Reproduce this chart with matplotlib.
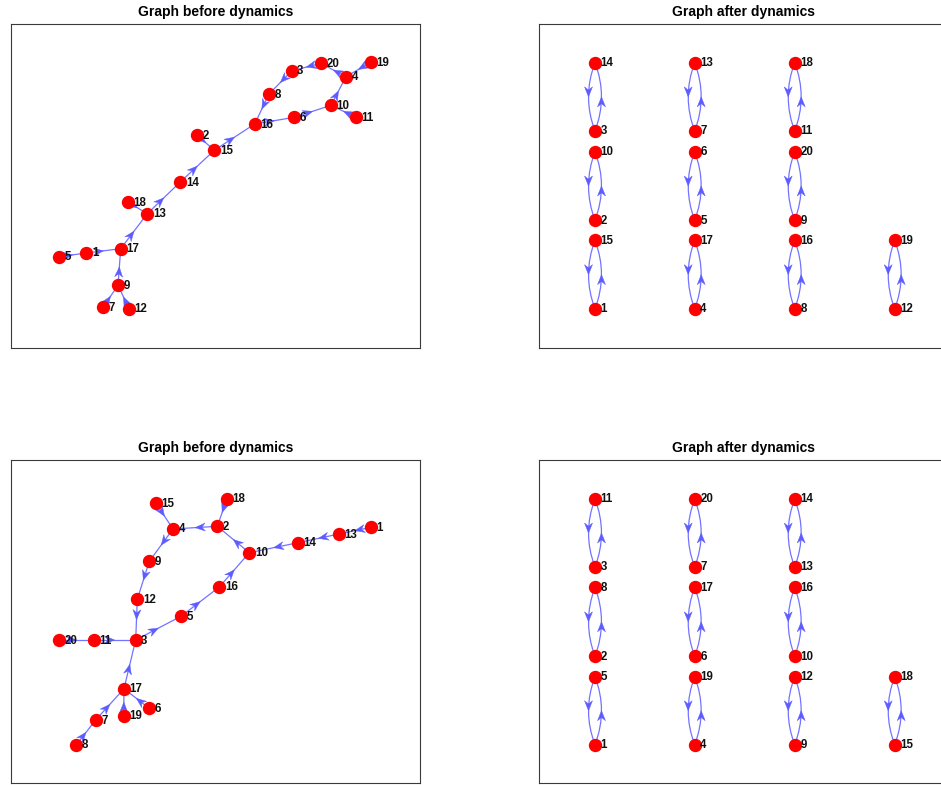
import numpy as np
import matplotlib
matplotlib.use("Agg")
import matplotlib.pyplot as plt
from matplotlib.patches import Polygon
from matplotlib.path import Path
from matplotlib.patches import PathPatch

plt.rcParams['font.family'] = ['Liberation Sans', 'DejaVu Sans']

# ---------------- data ----------------
node_ids = list(range(1, 21))

# Graph 1 (top-left) : layout coordinates (axes pixel units, y downwards)
g1_x = [75.3, 186.3, 280.7, 335.0, 48.3, 283.3, 92.0, 258.0, 107.0, 320.0,
        345.0, 118.0, 136.3, 169.3, 203.3, 243.7, 109.7, 116.7, 359.7, 309.7]
g1_y = [229.0, 111.3, 47.0, 52.7, 232.7, 93.3, 283.3, 70.0, 261.3, 81.3,
        93.3, 284.7, 189.7, 158.0, 126.3, 100.0, 224.7, 178.0, 38.3, 39.3]
# successor of each node 1..20 (functional graph)
g1_next = [17, 15, 8, 20, 1, 10, 9, 16, 17, 4,
           10, 9, 14, 15, 16, 6, 13, 13, 4, 3]

# Graph 3 (bottom-left)
g3_x = [359.7, 206.3, 124.7, 162.0, 170.0, 137.7, 84.7, 65.3, 138.3, 238.3,
        82.7, 126.3, 328.0, 287.0, 145.0, 208.3, 113.0, 216.0, 112.7, 48.3]
g3_y = [67.3, 66.3, 180.0, 69.0, 156.3, 248.0, 260.0, 284.7, 101.3, 92.7,
        180.0, 139.3, 74.0, 82.7, 43.3, 127.0, 228.7, 38.7, 255.7, 180.0]
g3_next = [13, 4, 5, 9, 16, 17, 17, 7, 12, 2,
           3, 3, 14, 10, 4, 10, 3, 2, 17, 11]

# Graphs after dynamics: 2-cycles (top node, bottom node) in a grid
col_x = [56.0, 155.7, 255.7, 355.7]
row_top_y_a = [38.7, 127.7, 216.3]
row_bot_y_a = [107.0, 196.3, 285.0]
row_top_y_b = [39.0, 127.3, 216.7]
row_bot_y_b = [107.0, 196.3, 284.7]
# (column, row, top node, bottom node)
g2_pairs = [(0, 0, 14, 3), (1, 0, 13, 7), (2, 0, 18, 11),
            (0, 1, 10, 2), (1, 1, 6, 5), (2, 1, 20, 9),
            (0, 2, 15, 1), (1, 2, 17, 4), (2, 2, 16, 8), (3, 2, 19, 12)]
g4_pairs = [(0, 0, 11, 3), (1, 0, 20, 7), (2, 0, 14, 13),
            (0, 1, 8, 2), (1, 1, 17, 6), (2, 1, 16, 10),
            (0, 2, 5, 1), (1, 2, 19, 4), (2, 2, 12, 9), (3, 2, 18, 15)]

# ---------------- style ----------------
EDGE_C = (0.45, 0.45, 1.0)
ARROW_C = (0.36, 0.36, 1.0)
NODE_C = (1.0, 0.0, 0.0)

W_AX = 409.0

fig = plt.figure(figsize=(9.41, 7.85), dpi=100)


def make_ax(left_px, top_px, bottom_px, title):
    fw, fh = 941.0, 785.0
    h = bottom_px - top_px
    ax = fig.add_axes([left_px / fw, 1 - bottom_px / fh, W_AX / fw, h / fh])
    ax.set_xlim(0, W_AX)
    ax.set_ylim(h, 0)
    ax.set_xticks([])
    ax.set_yticks([])
    for s in ax.spines.values():
        s.set_color('#3a3a3a')
        s.set_linewidth(0.8)
    ax.set_title(title, fontsize=10, fontweight='bold', pad=5.5)
    return ax


def arrowhead(ax, tip, u):
    u = np.asarray(u, float)
    u = u / np.linalg.norm(u)
    n = np.array([-u[1], u[0]])
    L, W, notch = 10.0, 4.0, 3.2
    tip = np.asarray(tip, float)
    pts = [tip, tip - L * u + W * n, tip - (L - notch) * u, tip - L * u - W * n]
    ax.add_patch(Polygon(pts, closed=True, facecolor=ARROW_C, edgecolor=ARROW_C,
                         lw=0.3, zorder=2))


def draw_nodes(ax, xs, ys, ids):
    ax.plot(xs, ys, 'o', ms=8.6, color=NODE_C, mec=NODE_C, zorder=3, ls='none')
    for x, y, i in zip(xs, ys, ids):
        ax.text(x + 5.5, y + 0.5, str(i), fontsize=8.3, fontweight='bold',
                ha='left', va='center', color='#111111', zorder=4)


def draw_functional(ax, xs, ys, nxt):
    for i, j in enumerate(nxt):
        s = np.array([xs[i], ys[i]])
        t = np.array([xs[j - 1], ys[j - 1]])
        ax.plot([s[0], t[0]], [s[1], t[1]], color=EDGE_C, lw=0.9, zorder=1)
        arrowhead(ax, (s + t) / 2, t - s)
    draw_nodes(ax, xs, ys, node_ids)


def curved_edge(ax, s, t, off=13.0):
    s = np.asarray(s, float)
    t = np.asarray(t, float)
    d = t - s
    r = np.array([-d[1], d[0]]) / np.linalg.norm(d)
    c = (s + t) / 2 + r * off
    path = Path([s, c, t], [Path.MOVETO, Path.CURVE3, Path.CURVE3])
    ax.add_patch(PathPatch(path, facecolor='none', edgecolor=EDGE_C, lw=0.9, zorder=1))
    mid = 0.25 * s + 0.5 * c + 0.25 * t
    arrowhead(ax, mid, d)


def draw_pairs(ax, pairs, rt, rb):
    xs, ys, ids = [], [], []
    for col, row, top, bot in pairs:
        pt = (col_x[col], rt[row])
        pb = (col_x[col], rb[row])
        curved_edge(ax, pt, pb)
        curved_edge(ax, pb, pt)
        xs += [pt[0], pb[0]]
        ys += [pt[1], pb[1]]
        ids += [top, bot]
    draw_nodes(ax, xs, ys, ids)


ax1 = make_ax(11, 24, 348, 'Graph before dynamics')
draw_functional(ax1, g1_x, g1_y, g1_next)

ax2 = make_ax(539, 24, 348, 'Graph after dynamics')
draw_pairs(ax2, g2_pairs, row_top_y_a, row_bot_y_a)

ax3 = make_ax(11, 460, 783, 'Graph before dynamics')
draw_functional(ax3, g3_x, g3_y, g3_next)

ax4 = make_ax(539, 460, 783, 'Graph after dynamics')
draw_pairs(ax4, g4_pairs, row_top_y_b, row_bot_y_b)

fig.savefig('out.png', dpi=100)
